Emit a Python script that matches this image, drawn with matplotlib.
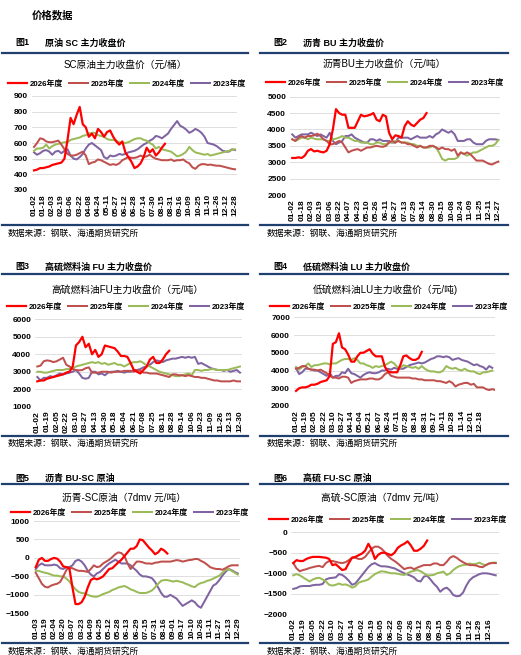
import numpy as np
import matplotlib
matplotlib.use('Agg')
import matplotlib.pyplot as plt
from matplotlib.lines import Line2D

W, H = 521, 655
FONT = ['Liberation Sans', 'Noto Sans CJK SC', 'DejaVu Sans']
plt.rcParams['font.family'] = FONT

years = ['2026年度', '2025年度', '2024年度', '2023年度']
colors = ['#FF0000', '#C0504D', '#9BBB59', '#8064A2']

# ---- 图1 SC 原油 (元/桶), 3 points per tick interval
sc_ticks = ['01-02', '01-18', '02-03', '02-19', '03-06', '03-22', '04-08', '04-24', '05-11', '05-27',
            '06-12', '06-28', '07-14', '07-30', '08-15', '08-31', '09-16', '10-09', '10-25', '11-10',
            '11-26', '12-12', '12-28']
sc_2026 = [425, 430, 440, 440, 445, 450, 460, 465, 470, 475, 500, 620, 760, 720, 780, 830, 720, 700, 640, 660,
           630, 690, 670, 640, 670, 680, 640, 610, 590, 610, 540, 510, 480, 440, 450, 470, 510, 570, 540, 560,
           520, 540, 570, 595]
sc_2025 = [575, 600, 630, 625, 610, 605, 605, 610, 615, 590, 560, 530, 520, 520, 525, 535, 545, 520, 465, 475,
           480, 495, 490, 480, 470, 460, 465, 460, 470, 490, 500, 510, 505, 505, 510, 520, 510, 515, 525, 510,
           500, 495, 490, 490, 490, 495, 485, 490, 490, 495, 480, 470, 445, 435, 455, 465, 465, 460, 462, 458,
           455, 455, 450, 445, 440, 435, 432]
sc_2024 = [550, 565, 565, 570, 590, 565, 580, 590, 595, 600, 605, 605, 620, 625, 630, 635, 645, 650, 660, 665,
           665, 650, 645, 640, 625, 620, 620, 615, 605, 600, 600, 605, 615, 625, 630, 630, 620, 615, 600, 590,
           565, 575, 560, 555, 550, 545, 530, 515, 520, 530, 545, 575, 555, 540, 535, 530, 525, 530, 520, 525,
           530, 535, 540, 545, 550, 555, 560]
sc_2023 = [540, 525, 535, 550, 555, 545, 525, 545, 550, 535, 550, 560, 520, 500, 495, 510, 530, 565, 590, 600,
           585, 570, 555, 510, 500, 520, 515, 520, 530, 525, 530, 540, 545, 550, 560, 575, 590, 600, 615, 625,
           645, 640, 630, 645, 660, 690, 715, 740, 710, 700, 685, 665, 675, 690, 680, 665, 640, 600, 595, 590,
           580, 565, 550, 545, 545, 560, 555]

# ---- 图2 沥青 BU (元/吨)
bu_ticks = ['01-02', '01-18', '02-03', '02-19', '03-06', '03-22', '04-07', '04-23', '05-10', '05-26',
            '06-11', '06-27', '07-13', '07-29', '08-14', '08-30', '09-15', '10-08', '10-24', '11-09',
            '11-25', '12-11', '12-27']
bu_2026 = [3130, 3130, 3150, 3130, 3200, 3350, 3400, 3330, 3350, 3320, 3300, 3350, 3550, 4000, 4620, 4500,
           4450, 4450, 4050, 4050, 4050, 4250, 4450, 4400, 4420, 4450, 4500, 4300, 4250, 4450, 4400, 3900,
           3700, 3820, 3800, 3750, 4100, 4250, 4150, 4100, 4200, 4300, 4350, 4500]
bu_2025 = [3700, 3650, 3750, 3800, 3750, 3800, 3800, 3820, 3870, 3800, 3700, 3650, 3550, 3550, 3600, 3650,
           3600, 3450, 3300, 3350, 3380, 3400, 3350, 3400, 3450, 3450, 3480, 3500, 3480, 3470, 3500, 3600,
           3650, 3600, 3650, 3600, 3600, 3550, 3550, 3500, 3450, 3500, 3450, 3450, 3500, 3500, 3450, 3400,
           3450, 3400, 3400, 3350, 3400, 3200, 3300, 3250, 3300, 3250, 3150, 3050, 3050, 3050, 3000, 2950,
           2930, 2980, 3020]
bu_2024 = [3700, 3650, 3700, 3750, 3750, 3700, 3750, 3720, 3700, 3700, 3700, 3650, 3650, 3700, 3720, 3750,
           3800, 3750, 3750, 3700, 3650, 3650, 3600, 3600, 3600, 3550, 3550, 3600, 3600, 3550, 3550, 3600,
           3600, 3650, 3650, 3600, 3600, 3600, 3550, 3550, 3500, 3500, 3450, 3450, 3450, 3500, 3450, 3300,
           3100, 3050, 3100, 3100, 3100, 3150, 3300, 3250, 3200, 3250, 3300, 3300, 3350, 3400, 3450, 3500,
           3500, 3550, 3680]
bu_2023 = [3850, 3750, 3800, 3850, 3850, 3850, 3900, 3850, 3800, 3850, 3800, 3750, 3900, 3650, 3550, 3600,
           3650, 3800, 3800, 3850, 3750, 3700, 3650, 3600, 3600, 3700, 3700, 3650, 3700, 3650, 3650, 3650,
           3600, 3600, 3750, 3750, 3750, 3750, 3700, 3750, 3800, 3750, 3750, 3750, 3800, 3750, 3850, 3900,
           4000, 3950, 3900, 3950, 3850, 3650, 3650, 3650, 3700, 3700, 3600, 3550, 3550, 3550, 3650, 3700,
           3700, 3700, 3680]

# ---- 图3 高硫燃料油 FU (元/吨)
fu_ticks = ['01-02', '01-19', '02-05', '02-22', '03-10', '03-27', '04-13', '04-30', '05-18', '06-04',
            '06-21', '07-08', '07-25', '08-11', '08-28', '09-14', '10-06', '10-23', '11-09', '11-26',
            '12-13', '12-30']
fu_2026 = [2450, 2500, 2500, 2600, 2650, 2700, 2750, 2800, 2850, 2950, 3000, 3300, 4500, 4700, 5000, 4400,
           4600, 4000, 4250, 3850, 4000, 4500, 4450, 4400, 4350, 4150, 3900, 3900, 3850, 3500, 3100, 3000,
           2900, 3100, 3300, 3700, 3850, 3500, 3500, 3700, 4000, 4200]
fu_2025 = [3300, 3350, 3600, 3650, 3620, 3550, 3600, 3700, 3800, 3400, 3300, 3150, 3100, 3080, 3100, 3200,
           3250, 2950, 2950, 2950, 3000, 3000, 3000, 2950, 3000, 3000, 3000, 3050, 3050, 3050, 3000, 3100,
           3050, 2950, 2950, 2900, 2900, 2900, 2850, 2800, 2750, 2700, 2850, 2850, 2800, 2800, 2750, 2800,
           2750, 2700, 2700, 2650, 2650, 2600, 2550, 2500, 2500, 2450, 2450, 2450, 2450, 2500, 2450, 2450]
fu_2024 = [3000, 3000, 2950, 2950, 3000, 3050, 3100, 3100, 3100, 3150, 3150, 3200, 3300, 3350, 3400, 3450,
           3500, 3550, 3500, 3550, 3450, 3500, 3400, 3450, 3500, 3400, 3400, 3300, 3400, 3500, 3550, 3550,
           3600, 3500, 3350, 3300, 3200, 3100, 3000, 2950, 2900, 2850, 2800, 2750, 2750, 2800, 2850, 2900,
           2800, 3100, 3100, 3050, 3100, 3100, 3150, 3150, 3100, 3100, 3100, 3100, 3150, 3200, 3250, 3300]
fu_2023 = [2700, 2500, 2650, 2650, 2750, 2700, 2800, 2900, 2850, 2900, 2950, 3000, 3100, 2900, 2650, 2600,
           2650, 3000, 3000, 2850, 2900, 2800, 2950, 3000, 3000, 3050, 3000, 2950, 3000, 3000, 3100, 3100,
           3150, 3250, 3300, 3400, 3550, 3650, 3600, 3550, 3650, 3700, 3750, 3750, 3800, 3850, 3800, 3850,
           3800, 3850, 3450, 3500, 3400, 3300, 3200, 3150, 3100, 3100, 3050, 3100, 3000, 3050, 3100, 2950]

# ---- 图4 低硫燃料油 LU (元/吨)
lu_ticks = ['01-02', '01-19', '02-05', '02-22', '03-10', '03-27', '04-14', '05-04', '05-21', '06-07',
            '06-24', '07-11', '07-28', '08-14', '08-31', '09-17', '10-11', '10-28', '11-14', '12-01', '12-18']
lu_2026 = [2850, 3000, 3050, 3050, 3100, 3200, 3200, 3250, 3350, 3400, 3450, 3700, 5500, 5600, 6100, 5300,
           5200, 4900, 4500, 4500, 4800, 5000, 5000, 5100, 5200, 4950, 4800, 4800, 4800, 4200, 3950, 3900,
           3900, 3900, 4300, 4800, 4850, 4700, 4600, 4600, 4700, 5050]
lu_2025 = [4100, 4150, 4250, 4250, 4100, 4050, 4050, 4000, 4050, 3950, 3850, 3700, 3600, 3600, 3550, 3650,
           3650, 3600, 3300, 3400, 3450, 3500, 3500, 3500, 3550, 3550, 3500, 3500, 3600, 3800, 3900, 3700,
           3650, 3600, 3600, 3600, 3600, 3600, 3550, 3550, 3500, 3500, 3450, 3450, 3450, 3450, 3400, 3400,
           3350, 3300, 3400, 3300, 3100, 3200, 3250, 3300, 3300, 3200, 3250, 3050, 3050, 3050, 2950, 2900,
           2950, 2900]
lu_2024 = [4200, 4050, 4200, 4250, 4400, 4200, 4300, 4300, 4350, 4400, 4400, 4350, 4400, 4400, 4500, 4600,
           4650, 4650, 4600, 4700, 4600, 4400, 4400, 4300, 4250, 4150, 4250, 4200, 4250, 4300, 4400, 4500,
           4400, 4200, 4150, 4300, 4250, 4200, 4150, 4200, 4100, 4250, 4100, 4000, 3950, 3950, 3900, 3900,
           4000, 4250, 4150, 4100, 4150, 4050, 4000, 4100, 4000, 3950, 3950, 3850, 3800, 3900, 3900, 3950, 4000]
lu_2023 = [4150, 3800, 3900, 4100, 4100, 4050, 4000, 4000, 3900, 3800, 3700, 3850, 3600, 3700, 3700, 3900,
           3850, 4100, 3850, 3800, 3700, 3600, 3750, 3850, 3900, 3850, 3850, 3900, 4000, 4000, 4100, 4050,
           4150, 4100, 4100, 4100, 4200, 4300, 4350, 4400, 4450, 4400, 4450, 4550, 4650, 4700, 4800, 4800,
           4750, 4800, 4750, 4600, 4650, 4700, 4600, 4550, 4500, 4400, 4300, 4350, 4250, 4200, 4050, 4250, 4150]

# ---- 图5 沥青-SC原油 (7dmv 元/吨)
bs_ticks = ['01-03', '01-19', '02-04', '02-20', '03-07', '03-23', '04-09', '04-25', '05-12', '05-28',
            '06-13', '06-29', '07-15', '07-31', '08-16', '09-01', '09-17', '10-10', '10-26', '11-11',
            '11-27', '12-13', '12-29']
bs_2026 = [-250, -50, 0, -80, -80, -30, 0, -20, -100, -230, -250, -280, -800, -1250, -1250, -1200, -1050,
           -800, -600, -550, -580, -550, -500, -400, -300, -280, -200, -120, -50, 50, 150, 250, 250, 320, 500,
           480, 380, 280, 200, 100, 150, 250, 200, 120]
bs_2025 = [-400, -550, -700, -780, -800, -750, -720, -700, -650, -500, -330, -260, -280, -320, -350, -350,
           -360, -380, -300, -200, -250, -230, -150, -100, -50, 20, 100, 150, 130, 50, -150, -300, -200, -100,
           -100, -120, -150, -150, -160, -130, -120, -100, -100, -100, -100, -80, -60, -70, -100, -80, -60,
           -50, -30, -30, -80, -120, -180, -250, -280, -300, -300, -320, -280, -230, -200, -200, -200]
bs_2024 = [-350, -350, -380, -400, -420, -450, -480, -480, -500, -500, -560, -640, -750, -850, -920, -950,
           -960, -1000, -1030, -1050, -1050, -1020, -980, -950, -920, -870, -840, -800, -780, -760, -800,
           -850, -880, -920, -950, -950, -950, -920, -880, -800, -700, -620, -600, -600, -620, -640, -620,
           -640, -660, -700, -730, -770, -790, -720, -680, -660, -620, -600, -560, -520, -480, -400, -330,
           -300, -350, -400, -450]
bs_2023 = [-300, -200, -150, -200, -200, -200, -180, -200, -280, -300, -250, -250, -200, -80, -50, -100,
           -200, -350, -450, -500, -420, -380, -300, -220, -150, -100, -50, -100, -150, -150, -150, -200,
           -280, -350, -450, -500, -500, -520, -550, -650, -800, -950, -1050, -1050, -1000, -1050, -1100,
           -1200, -1300, -1250, -1200, -1150, -1200, -1300, -1350, -1200, -1050, -900, -750, -700, -600,
           -480, -380, -300, -330, -380, -420]

# ---- 图6 高硫-SC原油 (7dmv 元/吨)
fs_ticks = ['01-02', '01-19', '02-05', '02-22', '03-10', '03-27', '04-14', '05-02', '05-19', '06-05',
            '06-22', '07-09', '07-26', '08-12', '08-29', '09-15', '10-09', '10-26', '11-12', '11-29', '12-16']
fs_2026 = [-750, -680, -700, -700, -650, -620, -600, -600, -600, -610, -620, -650, -800, -780, -850, -920,
           -900, -750, -620, -600, -560, -520, -450, -280, -420, -650, -550, -500, -500, -530, -560, -500,
           -380, -320, -280, -220, -320, -450, -450, -400, -330, -200]
fs_2025 = [-750, -880, -950, -920, -900, -870, -850, -830, -820, -850, -750, -700, -700, -720, -740, -750,
           -730, -680, -620, -620, -650, -650, -600, -500, -400, -350, -350, -400, -480, -580, -650, -700,
           -760, -830, -900, -870, -860, -900, -860, -830, -800, -800, -800, -760, -760, -800, -800, -720,
           -620, -580, -620, -680, -730, -770, -800, -800, -810, -840, -850, -800, -760, -750, -750]
fs_2024 = [-1050, -1020, -1050, -1100, -1150, -1200, -1150, -1120, -1110, -1150, -1200, -1280, -1300, -1280,
           -1250, -1280, -1270, -1300, -1350, -1320, -1230, -1200, -1180, -1150, -1080, -1020, -980, -950,
           -960, -980, -1000, -1000, -1010, -1030, -1040, -1000, -960, -940, -920, -950, -1000, -1050, -1050,
           -1040, -1000, -980, -960, -1040, -1000, -920, -860, -820, -800, -790, -760, -780, -770, -740, -780,
           -800, -760, -740, -740]
fs_2023 = [-1380, -1360, -1320, -1310, -1310, -1310, -1290, -1280, -1280, -1260, -1150, -1120, -1110, -1100,
           -1020, -1040, -1100, -1180, -1280, -1250, -1150, -1050, -950, -850, -780, -750, -800, -830, -830,
           -840, -860, -880, -920, -960, -1000, -1030, -1060, -1100, -1180, -1200, -1080, -1060, -1150, -1250,
           -1330, -1450, -1380, -1350, -1420, -1530, -1560, -1550, -1470, -1300, -1170, -1100, -1060, -1020,
           -1000, -1000, -1010, -1030, -1050]

fig = plt.figure(figsize=(W / 100, H / 100), dpi=100)
NAVY = '#1F3F6E'


def hline(x0, x1, y):
    fig.add_artist(Line2D([x0 / W, x1 / W], [1 - y / H, 1 - y / H], color=NAVY, lw=1.6))


def ftext(x, y, s, **kw):
    fig.text(x / W, 1 - y / H, s, va='center', **kw)


def chart(rect, xmax, ticks, data, ylim, ystep, title, tpos, lpos):
    l, t, r, b = rect
    ax = fig.add_axes([l / W, 1 - b / H, (r - l) / W, (b - t) / H])
    handles = []
    for i, (name, col, vals) in enumerate(zip(years, colors, data)):
        x = np.arange(len(vals)) / 3
        h, = ax.plot(x, vals, color=col, lw=1.6 if i == 0 else 1.45, zorder=5 - i)
        handles.append(h)
    ax.set_xlim(-0.2, xmax)
    ax.set_ylim(*ylim)
    ax.set_yticks(np.arange(ylim[0], ylim[1] + 1, ystep))
    ax.set_xticks(range(len(ticks)))
    ax.set_xticklabels(ticks, rotation=90)
    for lab in ax.get_xticklabels() + ax.get_yticklabels():
        lab.set_fontsize(6)
        lab.set_fontweight('bold')
    ax.tick_params(length=0, pad=3)
    ax.yaxis.grid(True, color='#D9D9D9', lw=0.6)
    ax.set_axisbelow(True)
    for s in ax.spines.values():
        s.set_visible(False)
    ftext(tpos[0], tpos[1], title, ha='center', fontsize=7)
    fig.legend(handles, years, loc='center', bbox_to_anchor=(lpos[0] / W, 1 - lpos[1] / H), ncol=4,
               frameon=False, handlelength=2.4, handletextpad=0.3, columnspacing=0.8,
               prop={'family': FONT, 'weight': 'bold', 'size': 5.7})
    return ax


ftext(32, 15, '价格数据', fontsize=7.5, fontweight='bold')

# captions, rules and sources
caps = [(43, 53, 225, 233, '图1', '原油 SC 主力收盘价', '图2', '沥青 BU 主力收盘价'),
        (267, 274, 436, 443, '图3', '高硫燃料油 FU 主力收盘价', '图4', '低硫燃料油 LU 主力收盘价'),
        (478, 484, 643, 651, '图5', '沥青 BU-SC 原油', '图6', '高硫 FU-SC 原油')]
for cy, ly, by, sy, n1, c1, n2, c2 in caps:
    ftext(15, cy, n1, fontsize=6.5, fontweight='bold')
    ftext(45, cy, c1, fontsize=6.5, fontweight='bold')
    ftext(273, cy, n2, fontsize=6.5, fontweight='bold')
    ftext(303, cy, c2, fontsize=6.5, fontweight='bold')
    hline(2, 248, ly)
    hline(260, 508, ly)
    hline(2, 248, by)
    hline(260, 508, by)
    ftext(8, sy, '数据来源：钢联、海通期货研究所', fontsize=6.3)
    ftext(267, sy, '数据来源：钢联、海通期货研究所', fontsize=6.3)

chart((32.2, 96, 236.8, 190), 22.2, sc_ticks, [sc_2026, sc_2025, sc_2024, sc_2023], (300, 900), 100,
      'SC原油主力收盘价（元/桶）', (125, 65), (127, 84))
chart((290.4, 96.7, 500.2, 195), 22.2, bu_ticks, [bu_2026, bu_2025, bu_2024, bu_2023], (2000, 5000), 500,
      '沥青BU主力收盘价（元/吨）', (384, 64), (385, 83))
chart((35.4, 319.3, 241.9, 406.7), 21.2, fu_ticks, [fu_2026, fu_2025, fu_2024, fu_2023], (1000, 6000), 1000,
      '高硫燃料油FU主力收盘价（元/吨）', (127, 290), (126, 307))
chart((294.2, 317.3, 494.7, 406), 21.6, lu_ticks, [lu_2026, lu_2025, lu_2024, lu_2023], (2000, 7000), 1000,
      '低硫燃料油LU主力收盘价（元/吨)', (385, 290), (389, 307))
chart((33.9, 521, 239.5, 613.3), 22.2, bs_ticks, [bs_2026, bs_2025, bs_2024, bs_2023], (-1500, 1000), 500,
      '沥青-SC原油（7dmv 元/吨）', (124, 498), (130, 513))
chart((291.3, 532.3, 499, 614.3), 21.0, fs_ticks, [fs_2026, fs_2025, fs_2024, fs_2023], (-2000, 0), 500,
      '高硫-SC原油（7dmv 元/吨）', (383, 498), (388, 520))

fig.savefig('out.png', dpi=100)
